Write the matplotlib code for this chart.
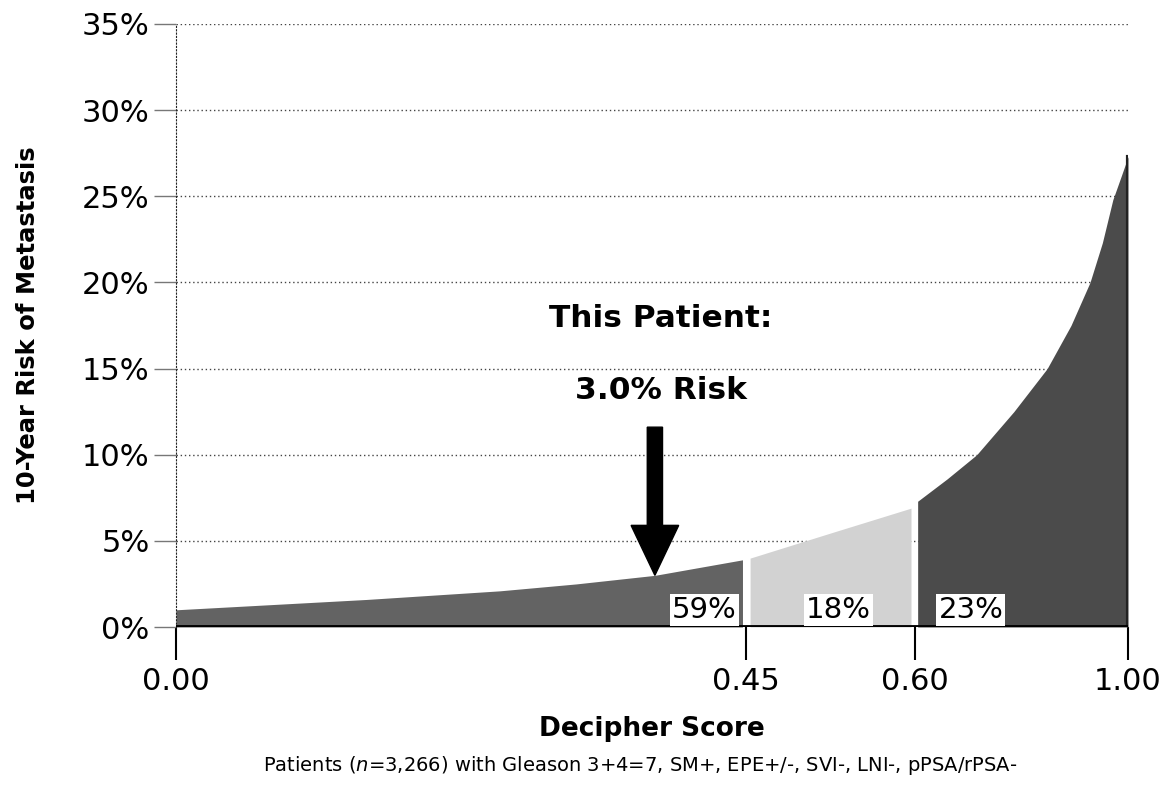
import matplotlib

matplotlib.use("Agg")

import matplotlib.pyplot as plt
from matplotlib.ticker import FuncFormatter

plt.rcParams["font.family"] = ["DejaVu Sans"]
plt.rcParams["mathtext.fontset"] = "dejavusans"

# x axis is the cumulative share of patients (percentile), labelled with Decipher score
tick_pct = [0, 59.9, 77.6, 100]
tick_scores = ["0.00", "0.45", "0.60", "1.00"]

# risk curve, split into the three risk groups (percentile, 10-yr risk %)
low_pct = [0, 10, 20, 34, 42, 50.3, 59.5]
low_risk = [1.0, 1.3, 1.6, 2.1, 2.5, 3.0, 3.9]
mid_pct = [60.3, 69, 77.2]
mid_risk = [4.0, 5.5, 6.9]
high_pct = [77.9, 81, 84.1, 88, 91.5, 94, 96, 97.3, 98.4, 99.3, 100]
high_risk = [7.3, 8.6, 10.0, 12.5, 15.0, 17.5, 20.0, 22.3, 24.8, 26.2, 27.3]

group_share = ["59%", "18%", "23%"]
share_pos = [55.5, 69.6, 83.5]

patient_pct = 50.3
patient_risk = 3.0

fig = plt.figure(figsize=(11.68, 7.92), dpi=100)
ax = fig.add_axes([0.1507, 0.2083, 0.8151, 0.7614])

ax.fill_between(low_pct, 0, low_risk, color="#636363", lw=0, zorder=2)
ax.fill_between(mid_pct, 0, mid_risk, color="#d2d2d2", lw=0, zorder=2)
ax.fill_between(high_pct, 0, high_risk, color="#4b4b4b", lw=0, zorder=2)
ax.plot([100, 100], [0, high_risk[-1]], color="#222222", lw=3, zorder=3)
ax.axhline(0, color="black", lw=3.5, zorder=4)

for x, s in zip(share_pos, group_share):
    ax.text(x, 1.0, s, ha="center", va="center", fontsize=21,
            bbox=dict(facecolor="white", edgecolor="none", pad=1.5), zorder=5)

# patient arrow
ax.arrow(patient_pct, 11.6, 0, patient_risk - 11.6, width=1.6, head_width=5.0,
         head_length=2.9, length_includes_head=True, color="black", zorder=6)
ax.text(patient_pct + 0.6, 17.9, "This Patient:", ha="center", va="center",
        fontsize=22.5, fontweight="bold")
ax.text(patient_pct + 0.6, 13.7, f"{patient_risk:.1f}% Risk", ha="center", va="center",
        fontsize=22.5, fontweight="bold")

ax.set_xlim(0, 100)
ax.set_ylim(0, 35)
ax.set_yticks(range(0, 36, 5))
ax.yaxis.set_major_formatter(FuncFormatter(lambda v, p: f"{v:.0f}%"))
ax.set_xticks(tick_pct)
ax.set_xticklabels(tick_scores)

ax.grid(axis="y", linestyle=(0, (1, 2)), color="#444444", lw=1)
ax.set_axisbelow(True)
for s in ["top", "right", "bottom"]:
    ax.spines[s].set_visible(False)
ax.spines["left"].set_linestyle((0, (1, 2)))
ax.spines["left"].set_color("#222222")

ax.tick_params(axis="y", length=16, width=1, color="#777777", pad=3,
               labelsize=22)
ax.tick_params(axis="x", length=24, width=1.5, color="black", pad=5,
               labelsize=22)

ax.set_ylabel("10-Year Risk of Metastasis", fontsize=17.5, fontweight="bold", labelpad=30)
ax.set_xlabel("Decipher Score", fontsize=19, fontweight="bold", labelpad=14)

fig.text(0.548, 0.034,
         "Patients ($n$=3,266) with Gleason 3+4=7, SM+, EPE+/-, SVI-, LNI-, pPSA/rPSA-",
         ha="center", va="center", fontsize=14)

fig.savefig("out.png", dpi=100)
